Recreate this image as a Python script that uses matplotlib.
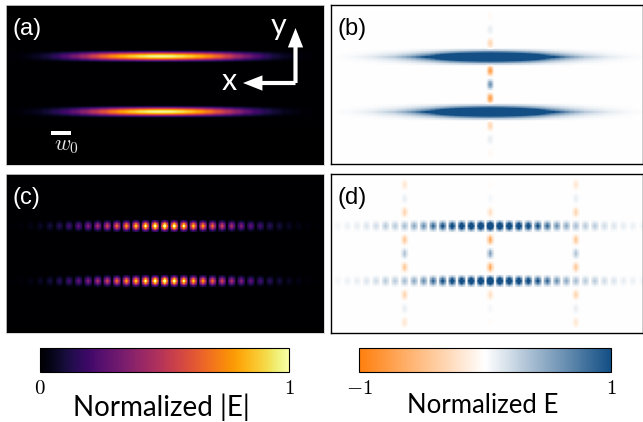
import numpy as np
import matplotlib
matplotlib.use("Agg")
import matplotlib.pyplot as plt
from matplotlib.colors import LinearSegmentedColormap, Normalize
from matplotlib.cm import ScalarMappable
from matplotlib.patches import Rectangle, FancyArrowPatch

W, H = 643, 422
plt.rcParams['mathtext.fontset'] = 'cm'

# --- values (from the centre outwards) ---
a_top_half = [.98,.97,.93,.88,.82,.75,.66,.55,.43,.33,.24,.16,.10,.06,.03,.015,.005]
a_bot_half = [.98,.97,.93,.87,.80,.71,.60,.49,.38,.28,.20,.14,.09,.05,.03,.012,.005]
b_line_half = [3.4,3.35,3.3,3.2,3.05,2.9,2.7,2.5,2.3,2.05,1.8,1.55,1.3,1.1,.95,.8,.66,.55,.46,.38,
               .30,.26,.22,.18,.14,.11,.09,.07,.055,.04,.03,.02,.01]
b_center_col = [-.04,.10,-.30,-.75,.60,-.75,-.30,.10,-.04]
c_dots_half = [1.2,1.15,1.05,.92,.82,.70,.57,.47,.37,.29,.22,.16,.11,.07,.04,.02,.01]
d_dots_half = [2.0,1.7,1.6,1.5,1.3,1.1,.9,.65,.5,.38,.3,.3,.2,.15,.1,.08,.05,.03,.02,.01]
d_center_col = [-.03,.05,-.25,-.7,.55,-.7,-.25,.05,-.03]
d_side_col = [-.2,.1,-.35,-.45,.35,-.45,-.35,.1,-.2]
cbar_E_abs_ticks = [0, 1]
cbar_E_ticks = [-1, 1]
cbar_E_abs_label = "Normalized |E|"
cbar_E_label = "Normalized E"
panel_labels = ["(a)", "(b)", "(c)", "(d)"]

cmap_div = LinearSegmentedColormap.from_list("ob", ["#ff7f0e", "#ffffff", "#134f85"])
UI = "Lato"
LAB = "Liberation Sans"
DOT = np.outer([.27, .72, 1, .72, .27], [.62, 1, .62])
BLOB = np.outer([.3, .8, 1, .8, .3], [.4, 1, .4])
BLOB_B = np.array([.3, .8, 1, .8, .3])
LINE_W = [.08, .25, .55, 1, .55, .25, .08]


def axpx(x0, y0, x1, y1):
    return fig.add_axes([x0 / W, 1 - y1 / H, (x1 - x0) / W, (y1 - y0) / H])


def full(half):
    half = np.asarray(half, float)
    return np.r_[half[:0:-1], half]


def stamp(Z, r, c, v, K):
    kr, kc = K.shape
    Z[r - kr // 2:r + kr // 2 + 1, c - kc // 2:c + kc // 2 + 1] += v * K


def show(ax, Z, col0, row0, cw, ch, pxc, pyc, box, cmap, norm):
    ax.imshow(Z, cmap=cmap, norm=norm, aspect="auto", interpolation="hanning",
              interpolation_stage="data")
    x0, y0, x1, y1 = box
    ax.set_xlim(col0 + (x0 - pxc) / cw, col0 + (x1 - pxc) / cw)
    ax.set_ylim(row0 + (y1 - pyc) / ch, row0 + (y0 - pyc) / ch)
    ax.set_xticks([]); ax.set_yticks([])


fig = plt.figure(figsize=(W / 100, H / 100), dpi=100, facecolor="white")
norm_abs = Normalize(0, 1)
norm_E = Normalize(-1, 1)
inferno = plt.get_cmap("inferno")

# (a)
box = (6, 5, 324, 165)
ax_a = axpx(*box); ax_a.set_facecolor("black")
Za = np.zeros((13, 37))
Za[2, 2:35] = full(a_top_half)
Za[10, 2:35] = full(a_bot_half)
show(ax_a, Za, 18, 2, 9.57, 6.875, 161, 57, box, inferno, norm_abs)

# (b)
box = (331, 5, 642.5, 164)
ax_b = axpx(*box); ax_b.set_facecolor("white")
rt, rb, c0 = 20, 44, 35
Zb = np.zeros((65, 71))
line = full(b_line_half)
for r in (rt, rb):
    for dr, w in zip(range(-3, 4), LINE_W):
        Zb[r + dr, 3:68] = line * w
rows = [rt - 18, rt - 12, rt - 6, rt + 6, rt + 12, rt + 18, rb + 6, rb + 12, rb + 18]
for r, v in zip(rows, b_center_col):
    Zb[r - 2:r + 3, c0] += v * BLOB_B
show(ax_b, Zb, c0, rt, 4.785, 2.29, 490, 57, box, cmap_div, norm_E)

# (c)
box = (6, 174, 324, 333)
ax_c = axpx(*box); ax_c.set_facecolor("black")
rt, rb, c0 = 20, 44, 70
Zc = np.zeros((65, 141))
dots = full(c_dots_half)
for i, v in enumerate(dots):
    col = c0 + 4 * (i - len(dots) // 2)
    stamp(Zc, rt, col, v, DOT)
    stamp(Zc, rb, col, v, DOT)
show(ax_c, Zc, c0, rt, 2.3925, 2.28, 164.7, 227, box, inferno, norm_abs)

# (d)
box = (331, 174, 642.5, 333)
ax_d = axpx(*box); ax_d.set_facecolor("white")
rt, rb, c0 = 20, 44, 84
Zd = np.zeros((65, 169))
dots = full(d_dots_half)
for i, v in enumerate(dots):
    col = c0 + 4 * (i - len(dots) // 2)
    stamp(Zd, rt, col, v, DOT)
    stamp(Zd, rb, col, v, DOT)
rows = [rt - 18, rt - 12, rt - 6, rt + 6, rt + 12, rt + 18, rb + 6, rb + 12, rb + 18]
for r, vc, vs in zip(rows, d_center_col, d_side_col):
    stamp(Zd, r, c0, vc, BLOB)
    stamp(Zd, r, c0 - 36, vs, BLOB)
    stamp(Zd, r, c0 + 36, vs, BLOB)
show(ax_d, Zd, c0, rt, 2.375, 2.29, 490, 226, box, cmap_div, norm_E)

for ax in (ax_a, ax_c):
    for s in ax.spines.values():
        s.set_color("#d0d0d0"); s.set_linewidth(.6)
for ax in (ax_b, ax_d):
    for s in ax.spines.values():
        s.set_color("black"); s.set_linewidth(1.0)

# panel labels
for ax, lab, col in zip((ax_a, ax_b, ax_c, ax_d), panel_labels, ("white", "black", "white", "black")):
    ax.text(7 / 318, 1 - 24 / 160, lab, transform=ax.transAxes, color=col,
            fontsize=17, family=LAB, va="center", ha="left")


def figpx(x, y):
    return (x / W, 1 - y / H)


for tip in ((295.5, 28), (243, 83)):
    fig.add_artist(FancyArrowPatch(
        figpx(295.5, 83), figpx(*tip), transform=fig.transFigure, color="white",
        arrowstyle="simple,head_width=11,head_length=14,tail_width=3", shrinkA=0, shrinkB=0,
        linewidth=0, mutation_scale=1, zorder=5))
fig.text(*figpx(279, 26), "y", color="white", fontsize=22, family=UI, ha="center", va="center", zorder=6)
fig.text(*figpx(229, 81), "x", color="white", fontsize=22, family=UI, ha="center", va="center", zorder=6)
fig.add_artist(Rectangle(figpx(51, 135), 20 / W, 4 / H, transform=fig.transFigure,
                         facecolor="white", edgecolor="none", zorder=5))
fig.text(*figpx(67, 146), r"$w_0$", color="#e6e6e6", fontsize=16, ha="center", va="center", zorder=6)


def cbar(x0, x1, cmap, norm, ticks, labels, label, size, shift):
    cax = axpx(x0, 348, x1, 372)
    cb = fig.colorbar(ScalarMappable(norm=norm, cmap=cmap), cax=cax, orientation="horizontal")
    cb.set_ticks(ticks)
    cb.set_ticklabels(labels)
    cax.tick_params(length=0, pad=4, labelsize=15)
    cb.outline.set_linewidth(.8)
    cb.outline.set_edgecolor("black")
    cax.set_xlabel(label, fontsize=size, family=UI, labelpad=-3, x=.5 + shift)
    return cb


cbar(40, 289, inferno, norm_abs, cbar_E_abs_ticks, [r"$0$", r"$1$"], cbar_E_abs_label, 20, -.012)
cbar(359, 611, cmap_div, norm_E, cbar_E_ticks, [r"$-1$", r"$1$"], cbar_E_label, 18.5, -.01)

fig.savefig("out.png", dpi=100)
